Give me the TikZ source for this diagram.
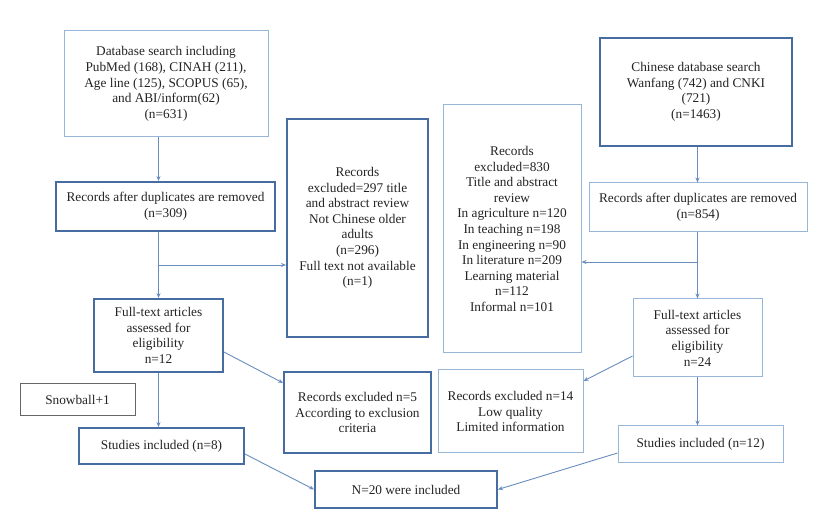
\documentclass[tikz,border=0pt]{standalone}
\usepackage{fontspec}
\setmainfont{Liberation Serif}
\usepackage{tikz}
\usetikzlibrary{arrows.meta}
\definecolor{boxdark}{RGB}{70, 108, 160}
\definecolor{boxlight}{RGB}{152, 182, 216}
\definecolor{flowline}{RGB}{105, 140, 190}
\definecolor{flowtext}{RGB}{35, 35, 35}

\begin{document}
\begin{tikzpicture}[x=1pt, y=-1pt,
    every node/.style={align=center, inner sep=0pt, text=flowtext, font=\fontsize{13.3}{15.6}\selectfont},
    darkbox/.style={draw=boxdark, line width=1.8pt},
    lightbox/.style={draw=boxlight, line width=1pt},
    greybox/.style={draw=black!60, line width=1pt},
    flow/.style={->, draw=flowline, line width=0.9pt, >={Stealth[length=5pt,width=4pt]}}]
    \useasboundingbox (0,0) rectangle (817,518);
    % left branch
    \node (dbsearch) at (166,84) [lightbox, minimum width=204pt, minimum height=106pt] {Database search including\\PubMed (168), CINAH (211),\\Age line (125), SCOPUS (65),\\and ABI/inform(62)\\(n=631)};
    \node (dupleft) at (165.5,206.5) [darkbox, minimum width=219pt, minimum height=49pt] {Records after duplicates are removed\\(n=309)};
    \node (exclleft) at (357.5,228) [darkbox, minimum width=141pt, minimum height=218pt] {Records\\excluded=297 title\\and abstract review\\Not Chinese older\\adults\\(n=296)\\Full text not available\\(n=1)};
    \node (fullleft) at (158.5,335.5) [darkbox, minimum width=129pt, minimum height=73pt] {Full-text articles\\assessed for\\eligibility\\n=12};
    \node (snowball) at (77.5,400) [greybox, minimum width=115pt, minimum height=32pt] {Snowball+1};
    \node (inclleft) at (161.5,446) [darkbox, minimum width=165pt, minimum height=36pt] {Studies included (n=8)};
    \node (critleft) at (357.5,412.5) [darkbox, minimum width=147pt, minimum height=81pt] {Records excluded n=5\\According to exclusion\\criteria};
    % right branch
    \node (cnsearch) at (696,92) [darkbox, minimum width=192pt, minimum height=108pt] {Chinese database search\\Wanfang (742) and CNKI\\(721)\\(n=1463)};
    \node (dupright) at (698,207.5) [lightbox, minimum width=218pt, minimum height=49pt] {Records after duplicates are removed\\(n=854)};
    \node (exclright) at (512,229) [lightbox, minimum width=138pt, minimum height=248pt] {Records\\excluded=830\\Title and abstract\\review\\In agriculture n=120\\In teaching n=198\\In engineering n=90\\In literature n=209\\Learning material\\n=112\\Informal n=101};
    \node (fullright) at (697.5,338) [lightbox, minimum width=129pt, minimum height=78pt] {Full-text articles\\assessed for\\eligibility\\n=24};
    \node (critright) at (510.5,411.5) [lightbox, minimum width=145pt, minimum height=83pt] {Records excluded n=14\\Low quality\\Limited information};
    \node (inclright) at (700.5,444.5) [lightbox, minimum width=165pt, minimum height=37pt] {Studies included (n=12)};
    % total
    \node (total) at (406,489.5) [darkbox, minimum width=182pt, minimum height=37pt] {N=20 were included};

    \coordinate (splitleft) at (158.5,265);
    \coordinate (splitright) at (697.5,262);

    \draw[flow] (dbsearch.south -| fullleft) -- (dupleft.north -| fullleft);
    \draw[flow] (dupleft.south -| fullleft) -- (fullleft.north);
    \draw[flow] (splitleft) -- (splitleft -| exclleft.west);
    \draw[flow] ([yshift=-16.5pt]fullleft.east) -- ([yshift=29.5pt]critleft.west);
    \draw[flow] (fullleft.south) -- (fullleft.south |- inclleft.north);
    \draw[flow] ([yshift=-8pt]inclleft.east) -- (total.west);

    \draw[flow] (cnsearch.south -| fullright) -- (dupright.north -| fullright);
    \draw[flow] (dupright.south -| fullright) -- (fullright.north);
    \draw[flow] (splitright) -- (splitright -| exclright.east);
    \draw[flow] ([yshift=-18pt]fullright.west) -- ([yshift=30.5pt]critright.east);
    \draw[flow] (fullright.south) -- (fullright.south |- inclright.north);
    \draw[flow] ([yshift=-8.5pt]inclright.west) -- (total.east);
\end{tikzpicture}
\end{document}
